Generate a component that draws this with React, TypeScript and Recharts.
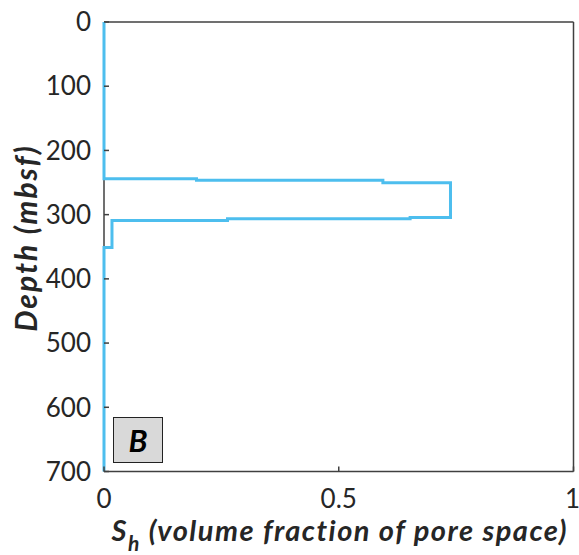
import React from "react";
import { LineChart, Line, XAxis, YAxis, ReferenceLine } from "recharts";

// Hydrate saturation profile versus depth below seafloor
const depthM = [0, 244, 244, 246.5, 246.5, 250.5, 250.5, 304.5, 304.5, 306.5, 306.5, 309, 309, 351, 351, 700];
const hydrateSat = [0, 0, 0.197, 0.197, 0.594, 0.594, 0.738, 0.738, 0.652, 0.652, 0.263, 0.263, 0.017, 0.017, 0, 0];

const depthTicks = [0, 100, 200, 300, 400, 500, 600, 700];
const satTicks = [0, 0.5, 1];
const panelTag = "B";

const data = depthM.map((d, i) => ({ depth: d, sh: hydrateSat[i] }));

const FONT = "Lato, 'Open Sans', sans-serif";
const AXIS = "#404040";
const TEXT = "#262626";

const YLabel = (props: any) => {
  const vb = props.viewBox || {};
  const cx = vb.x - 19;
  const cy = 238;
  return (
    <text
      x={cx}
      y={cy}
      transform={`rotate(-90, ${cx}, ${cy})`}
      textAnchor="middle"
      dominantBaseline="central"
      fontFamily={FONT}
      fontSize={30}
      letterSpacing={2}
      fontWeight="bold"
      fontStyle="italic"
      fill={TEXT}
    >
      Depth (mbsf)
    </text>
  );
};

const XLabel = (props: any) => {
  const vb = props.viewBox || {};
  const cx = vb.x + vb.width / 2 + 1;
  const y = vb.y + 69;
  return (
    <text
      x={cx}
      y={y}
      textAnchor="middle"
      fontFamily={FONT}
      fontSize={29}
      letterSpacing={1.5}
      fontWeight="bold"
      fontStyle="italic"
      fill={TEXT}
    >
      S
      <tspan dy={10} fontSize={21}>h</tspan>
      <tspan dy={-10}> (volume fraction of pore space)</tspan>
    </text>
  );
};

export default function App() {
  return (
    <div style={{ position: "absolute", left: 0, top: 0, width: 579, height: 555, background: "#fff" }}>
      <LineChart
        width={579}
        height={555}
        data={data}
        layout="vertical"
        margin={{ top: 22, right: 5.5, bottom: 53.5, left: 44 }}
      >
        <XAxis
          type="number"
          dataKey="sh"
          domain={[0, 1]}
          ticks={satTicks}
          height={30}
          stroke={AXIS}
          strokeWidth={1.5}
          tickSize={-5}
          tickMargin={23}
          tick={{ fontSize: 26, fill: TEXT, fontFamily: FONT }}
          label={<XLabel />}
        />
        <YAxis
          type="number"
          dataKey="depth"
          domain={[0, 700]}
          ticks={depthTicks}
          width={60}
          axisLine={false}
          stroke={AXIS}
          strokeWidth={1.5}
          tickSize={-5}
          tickMargin={18}
          tick={{ fontSize: 26, fill: TEXT, fontFamily: FONT }}
          label={<YLabel />}
        />
        <ReferenceLine x={0} stroke={AXIS} strokeWidth={1.5} />
        <ReferenceLine y={0} stroke={AXIS} strokeWidth={1.5} />
        <ReferenceLine x={1} stroke={AXIS} strokeWidth={1.5} />
        <Line
          dataKey="sh"
          type="linear"
          stroke="#4DBEEE"
          strokeWidth={3}
          dot={false}
          isAnimationActive={false}
        />
      </LineChart>
      <div
        style={{
          position: "absolute",
          left: 113,
          top: 417,
          width: 48,
          height: 44,
          background: "#D9D9D9",
          border: "1.5px solid #222",
          display: "flex",
          alignItems: "center",
          justifyContent: "center",
          fontFamily: FONT,
          fontSize: 31,
          fontWeight: "bold",
          fontStyle: "italic",
          color: "#000",
        }}
      >
        {panelTag}
      </div>
    </div>
  );
}
